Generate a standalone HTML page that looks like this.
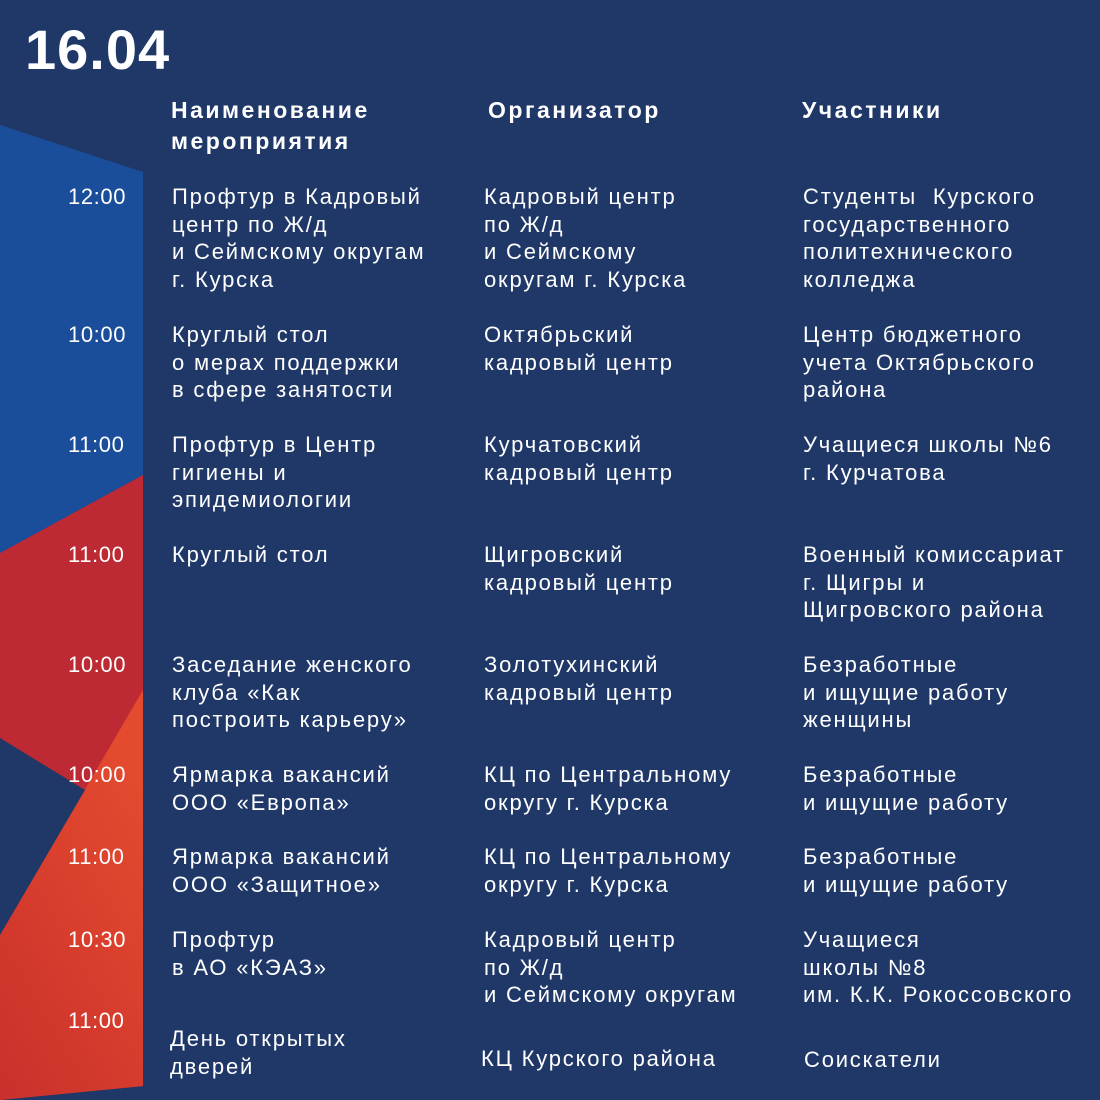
<!DOCTYPE html>
<html><head><meta charset="utf-8"><style>
body{margin:0;width:1100px;height:1100px;overflow:hidden;background:#1f3868;position:relative;font-family:"Liberation Sans","DejaVu Sans",sans-serif;color:#fff}
.t{position:absolute;font-size:22px;line-height:27.5px;letter-spacing:1.8px;white-space:nowrap}
.m{letter-spacing:0.6px}
.h{position:absolute;font-size:23px;line-height:31px;font-weight:bold;letter-spacing:2.5px;white-space:nowrap}
</style></head><body>
<svg width="1100" height="1100" style="position:absolute;left:0;top:0">
<defs><linearGradient id="g" x1="0" y1="1" x2="0.6" y2="0"><stop offset="0" stop-color="#c9302c"/><stop offset="1" stop-color="#e44a2e"/></linearGradient></defs>
<polygon points="0,125 143,172 143,475 0,553" fill="#1a4e9b"/>
<polygon points="0,553 143,475 143,1086 0,1100" fill="#bd2a33"/>
<polygon points="143,690 0,935 0,1100 143,1086" fill="url(#g)"/>
<polygon points="0,738 85,790 0,935" fill="#1f3868"/>
</svg>
<div style="position:absolute;left:25px;top:17px;font-size:56px;font-weight:bold;letter-spacing:1px">16.04</div>
<div class="h" style="left:171px;top:95px">Наименование<br>мероприятия</div>
<div class="h" style="left:488px;top:95px">Организатор</div>
<div class="h" style="left:802px;top:95px">Участники</div>

<div class="t m" style="left:68px;top:183px">12:00</div>
<div class="t" style="left:172px;top:183px">Профтур в Кадровый<br>центр по Ж/д<br>и Сеймскому округам<br>г. Курска</div>
<div class="t" style="left:484px;top:183px">Кадровый центр<br>по Ж/д<br>и Сеймскому<br>округам г. Курска</div>
<div class="t" style="left:803px;top:183px">Студенты &nbsp;Курского<br>государственного<br>политехнического<br>колледжа</div>

<div class="t m" style="left:68px;top:321px">10:00</div>
<div class="t" style="left:172px;top:321px">Круглый стол<br>о мерах поддержки<br>в сфере занятости</div>
<div class="t" style="left:484px;top:321px">Октябрьский<br>кадровый центр</div>
<div class="t" style="left:803px;top:321px">Центр бюджетного<br>учета Октябрьского<br>района</div>

<div class="t m" style="left:68px;top:431px">11:00</div>
<div class="t" style="left:172px;top:431px">Профтур в Центр<br>гигиены и<br>эпидемиологии</div>
<div class="t" style="left:484px;top:431px">Курчатовский<br>кадровый центр</div>
<div class="t" style="left:803px;top:431px">Учащиеся школы №6<br>г. Курчатова</div>

<div class="t m" style="left:68px;top:541px">11:00</div>
<div class="t" style="left:172px;top:541px">Круглый стол</div>
<div class="t" style="left:484px;top:541px">Щигровский<br>кадровый центр</div>
<div class="t" style="left:803px;top:541px">Военный комиссариат<br>г. Щигры и<br>Щигровского района</div>

<div class="t m" style="left:68px;top:651px">10:00</div>
<div class="t" style="left:172px;top:651px">Заседание женского<br>клуба «Как<br>построить карьеру»</div>
<div class="t" style="left:484px;top:651px">Золотухинский<br>кадровый центр</div>
<div class="t" style="left:803px;top:651px">Безработные<br>и ищущие работу<br>женщины</div>

<div class="t m" style="left:68px;top:761px">10:00</div>
<div class="t" style="left:172px;top:761px">Ярмарка вакансий<br>ООО «Европа»</div>
<div class="t" style="left:484px;top:761px">КЦ по Центральному<br>округу г. Курска</div>
<div class="t" style="left:803px;top:761px">Безработные<br>и ищущие работу</div>

<div class="t m" style="left:68px;top:843px">11:00</div>
<div class="t" style="left:172px;top:843px">Ярмарка вакансий<br>ООО «Защитное»</div>
<div class="t" style="left:484px;top:843px">КЦ по Центральному<br>округу г. Курска</div>
<div class="t" style="left:803px;top:843px">Безработные<br>и ищущие работу</div>

<div class="t m" style="left:68px;top:926px">10:30</div>
<div class="t" style="left:172px;top:926px">Профтур<br>в АО «КЭАЗ»</div>
<div class="t" style="left:484px;top:926px">Кадровый центр<br>по Ж/д<br>и Сеймскому округам</div>
<div class="t" style="left:803px;top:926px">Учащиеся<br>школы №8<br>им. К.К. Рокоссовского</div>

<div class="t m" style="left:68px;top:1007px">11:00</div>
<div class="t" style="left:170px;top:1025px">День открытых<br>дверей</div>
<div class="t" style="left:481px;top:1045px">КЦ Курского района</div>
<div class="t" style="left:804px;top:1046px">Соискатели</div>
</body></html>
